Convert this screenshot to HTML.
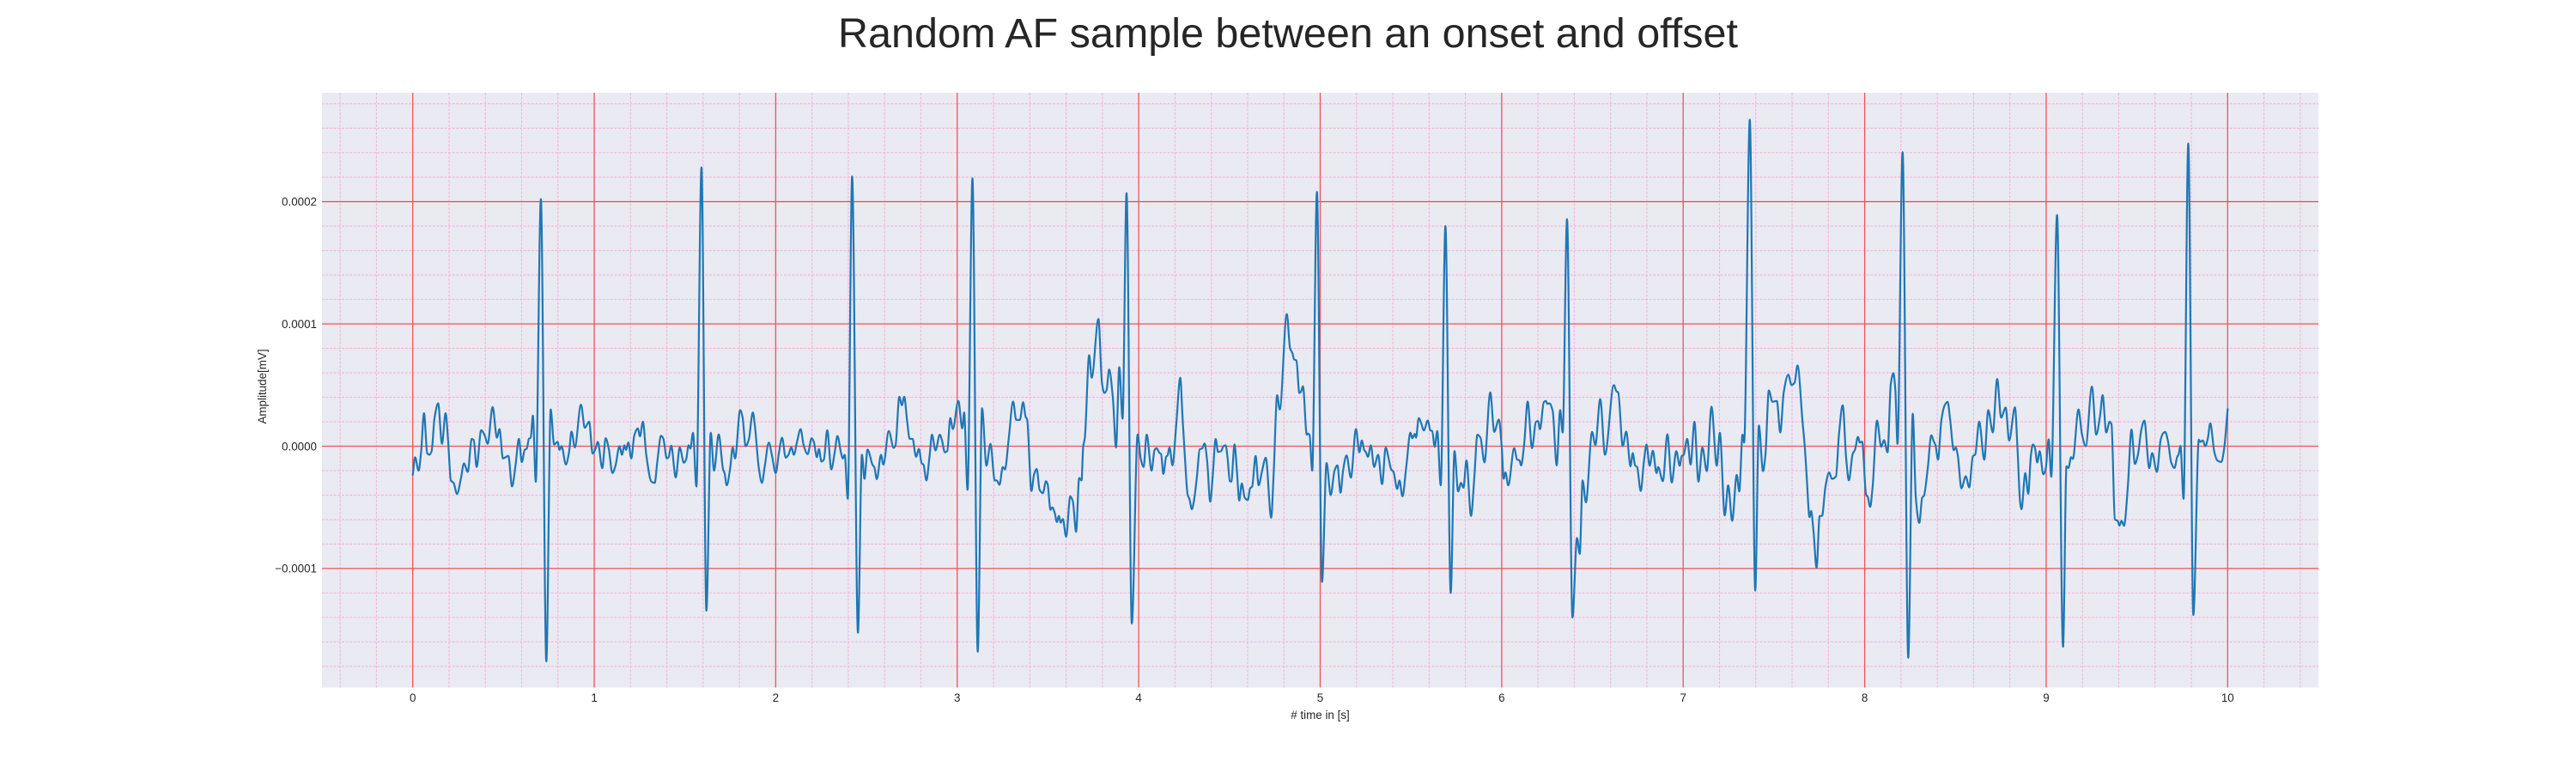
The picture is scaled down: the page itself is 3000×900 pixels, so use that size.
<!DOCTYPE html>
<html lang="en">
<head>
<meta charset="utf-8">
<title>Random AF sample between an onset and offset</title>
<style>
  html, body { margin: 0; padding: 0; background: #ffffff; }
  svg { display: block; font-family: "Liberation Sans", Arial, sans-serif; }
</style>
</head>
<body>
<svg id="chart" xmlns="http://www.w3.org/2000/svg" width="3000" height="900" viewBox="0 0 3000 900">
  <rect x="0" y="0" width="3000" height="900" fill="#ffffff"/>
  <text x="1500" y="55" text-anchor="middle" font-size="48.5" fill="#262626">Random AF sample between an onset and offset</text>
  <rect x="375" y="108" width="2325" height="692.5" fill="#eaeaf2"/>
  <g id="minor-grid"></g>
  <g id="major-grid"></g>
  <path id="signal" fill="none" stroke="#1f77b4" stroke-width="2.2" stroke-linejoin="round" stroke-linecap="round"></path>
  <g id="x-ticks" font-size="13.4" fill="#262626" text-anchor="middle"></g>
  <g id="y-ticks" font-size="13.4" fill="#262626" text-anchor="end"></g>
  <text x="1537.5" y="837" text-anchor="middle" font-size="13.4" fill="#262626"># time in [s]</text>
  <text transform="translate(310 450) rotate(-90)" text-anchor="middle" font-size="13.4" fill="#262626">Amplitude[mV]</text>
</svg>
<script>
// Chart data (time in seconds, amplitude in millionths of a mV)
const xMajorTicks = [0, 1, 2, 3, 4, 5, 6, 7, 8, 9, 10];
const yMajorTicks = [-0.0001, 0, 0.0001, 0.0002];
const yTickLabels = ["\u22120.0001", "0.0000", "0.0001", "0.0002"];
const xDomain = [-0.5, 10.5];
const yDomain = [-0.00019733, 0.00028898];
const timeSeconds = [
0,.013,.032,.046,.062,.08,.091,.104,.12,.14,.161,.181,.195,.21,.225,.244,.266,.282,.303,.325,.336,.352,.377,.396,.413,.44,.464,.478,.497,.527,.547,.566,.585,.601,.617,.628,.64,.65,.662,.678,.706,.736,.76,.779,.798,.809,.82,.844,.861,.875,.893,.927,.948,.972,.991,
1.005,1.02,1.044,1.063,1.08,1.1,1.117,1.139,1.153,1.166,1.175,1.188,1.204,1.221,1.24,1.252,1.268,1.287,1.315,1.333,1.348,1.368,1.38,1.4,1.41,1.424,1.449,1.471,1.494,1.506,1.52,1.53,1.544,1.563,1.591,1.618,1.642,1.66,1.686,1.71,1.718,1.73,1.749,1.763,1.776,1.804,1.817,1.834,1.851,1.874,1.885,1.907,1.924,1.939,1.962,1.979,
2,2.018,2.035,2.055,2.07,2.086,2.1,2.118,2.137,2.154,2.176,2.198,2.209,2.227,2.238,2.252,2.265,2.284,2.306,2.325,2.34,2.36,2.37,2.38,2.397,2.421,2.453,2.475,2.489,2.506,2.535,2.543,2.557,2.58,2.593,2.623,2.65,2.66,2.681,2.695,2.708,2.724,2.738,2.754,2.773,2.789,2.804,2.814,2.83,2.848,2.861,2.88,2.904,2.915,2.932,2.945,2.962,2.976,
3.006,3.028,3.038,3.057,3.084,3.113,3.137,3.161,3.183,3.207,3.218,3.233,3.251,3.263,3.284,3.308,3.325,3.345,3.363,3.377,3.385,3.409,3.423,3.438,3.454,3.472,3.489,3.498,3.514,3.524,3.538,3.549,3.56,3.57,3.582,3.6,3.623,3.637,3.655,3.672,3.685,3.694,3.703,3.727,3.741,3.778,3.798,3.811,3.823,3.837,3.858,3.875,3.893,3.911,3.933,3.962,3.994,
4.011,4.027,4.044,4.071,4.087,4.098,4.115,4.123,4.136,4.151,4.159,4.17,4.186,4.207,4.229,4.241,4.254,4.27,4.279,4.293,4.304,4.32,4.337,4.349,4.363,4.377,4.394,4.407,4.424,4.437,4.454,4.467,4.479,4.49,4.502,4.51,4.528,4.541,4.554,4.568,4.584,4.601,4.614,4.625,4.644,4.661,4.68,4.7,4.73,4.743,4.763,4.777,4.816,4.834,4.847,4.856,4.869,4.885,4.894,4.905,4.926,4.932,4.941,4.956,4.982,
5.01,5.035,5.058,5.079,5.095,5.112,5.126,5.145,5.169,5.197,5.216,5.229,5.243,5.251,5.263,5.279,5.297,5.319,5.341,5.361,5.377,5.391,5.404,5.424,5.437,5.453,5.475,5.497,5.508,5.521,5.528,5.543,5.555,5.571,5.593,5.607,5.617,5.631,5.645,5.664,5.69,5.719,5.74,5.76,5.776,5.789,5.806,5.831,5.849,5.866,5.883,5.905,5.937,5.959,5.984,
6,6.011,6.021,6.036,6.069,6.085,6.098,6.107,6.124,6.143,6.167,6.189,6.2,6.211,6.232,6.243,6.252,6.263,6.281,6.303,6.322,6.336,6.36,6.39,6.415,6.43,6.446,6.464,6.498,6.516,6.543,6.569,6.618,6.632,6.642,6.667,6.686,6.71,6.722,6.735,6.746,6.766,6.784,6.798,6.815,6.833,6.853,6.862,6.888,6.913,6.937,6.962,6.981,6.992,
7.003,7.022,7.041,7.062,7.084,7.106,7.13,7.156,7.185,7.202,7.229,7.248,7.27,7.295,7.309,7.327,7.336,7.367,7.397,7.417,7.44,7.453,7.472,7.492,7.516,7.535,7.554,7.579,7.597,7.614,7.63,7.658,7.67,7.681,7.696,7.705,7.718,7.735,7.752,7.765,7.784,7.804,7.82,7.842,7.858,7.879,7.898,7.913,7.934,7.947,7.963,7.973,7.986,
8.008,8.017,8.03,8.044,8.068,8.091,8.107,8.126,8.144,8.158,8.169,8.181,8.209,8.24,8.265,8.282,8.301,8.317,8.326,8.347,8.367,8.38,8.39,8.404,8.423,8.441,8.457,8.47,8.491,8.502,8.513,8.533,8.557,8.576,8.596,8.609,8.631,8.659,8.681,8.706,8.73,8.752,8.777,8.796,8.828,8.843,8.856,8.864,8.885,8.901,8.916,8.927,8.937,8.951,8.964,8.984,8.997,
9.014,9.028,9.06,9.093,9.112,9.123,9.137,9.147,9.178,9.197,9.218,9.252,9.276,9.297,9.311,9.331,9.35,9.36,9.379,9.394,9.404,9.415,9.429,9.45,9.47,9.489,9.505,9.525,9.541,9.568,9.584,9.61,9.631,9.644,9.656,9.671,9.689,9.707,9.722,9.729,9.74,9.757,9.783,9.811,9.841,9.849,9.863,9.877,9.891,9.904,9.927,9.942,9.965,9.98,10
];
const amplitudeMicro = [
-23.4,-9,-20,-5,27,-6,-7,-4,23,35,2,27,4,-28,-30,-39,-26,-14,-21,6,5,-17,13,9,2,32,7,14,-10,-8,-33,-16,6,-13,-3,-2,6,7,25,-29,202,-176,30,1.4,3.5,-3,0,-15,-5,12,-1,34,15,20,-6,
-3,3.5,-18,6.5,-2,-22,-16,0,-7,.7,-3,3,-10,9,14.5,8,20,-7.5,-29,-30,-12,8.5,6.5,-10,-9,.5,-25.5,-1,-13.5,-11,.7,-2,11,-33,228,-134.5,11,-20,9.6,-19,-22,-32,-18,-1,-10,29.5,24,0,5,27.6,17,-18,-30,-17,3,-7.5,
-22,-5,7,-9.4,-7,-1,-7,4,14,.7,-6.5,6.5,4,-9,-2.3,-12.6,-11,13,-19,-5,8.4,-5.6,-10,-7,-43,220.6,-152.5,-7,-26.7,-2.8,-15.7,-17,-27,-7,-15,12.4,-1.4,.7,40.5,33.5,40.5,20.6,6,6,-8.7,-2.3,-14,-15,-28,-7.5,9.4,-3.5,9.4,5.4,-5,-4,23,14,
37,14.5,27.6,-35.6,219,-168,31,-16,1.9,-28,-28,-31.6,-17,-19,6.5,36.5,21.5,21.5,36,24,22,-36.7,-23.4,-18.7,-35.6,-38.4,-28.6,-31,-52,-50,-55,-62,-57,-62.5,-59.5,-74,-41,-45,-70,-26,-28,-.5,6.5,74.4,56,104,51,43.5,46,62.7,39,-1,64.6,22.5,206.8,-145,9.6,
-10,-17,9.4,-20,-3.3,-1.6,-5.6,-6.3,-22.7,-8.7,-7.5,-1,-15.7,18,56,25,-7.5,-40,-43,-51.5,-45,-26,-2.3,-2,2.3,-12,-45.4,-26,6,-4.7,-4,0,.7,-10,-28.6,-29,1.4,-20,-44.5,-30.4,-42,-44,-34.4,-33,-8,-32,-20,-9.4,-58.5,-24,41.7,30,108,80,76,71,70,43.5,44.5,49,9.4,10.3,9.4,-20,208,
-111,-13.8,-40,-20,-15.7,-38,-20,-7.5,-25.7,14,-5,4.7,-3.3,-4.7,-8.7,.7,-17,-7,-31,-1,-10,-19,-21,-35,-28,-41,-15.7,11,6.5,10,7,23,19.4,12.9,21,12.9,12.4,-.5,12.4,-32,180,-120,-4,-37,-30,-34,-11.7,-57,-26,9.4,7,-13.3,44,11.7,21.8,
0,-26.7,-21.5,-32,-1.6,-11,-11.5,-15.7,1.9,36.5,-1.6,20,20.6,14,36,37,34.6,35,28.8,-15.7,29.5,11.2,185.6,-140,-75,-88,-28,-46,11.7,1,38.6,-7,50,45,44,0,12,-16.4,-5.6,-15.7,-17,-36.7,-12,1.4,-16,-3.7,-22,-17,-28.6,9.8,-29.7,-4,-16,-8,
-7,6,-15,20,-29,-1,-20.4,32.3,-16,11,-56.6,-32,-61,-23.4,-37,9.4,3,267,-118,17,-20.4,-7.5,45.6,36.3,37,11.2,44,58.5,50,52,66,19.4,-.5,-26,-58,-53,-69.5,-99.4,-57,-57,-33,-21.5,-26.7,-24.6,8.9,33.5,-9.8,-27.9,-6.3,-2.8,7.7,3,3.7,
-39.8,-41.4,-49.6,-33,21,-.5,4.9,-5,51,59.7,46,1.9,240.4,-173,26.5,-42.6,-62.7,-42,-40.7,-19,8.9,4.2,1,-11,21.8,33.5,36.3,23,-3.3,-1,-7.5,-34.4,-24.6,-33.7,-8.2,-6.8,20,-11,29.5,11.2,55,23.4,31.6,4.7,31.8,-5,-45,-51.5,-22,-39,-7.5,1.4,-.5,-13.3,-4,-23,-19,
5.6,-25,189,-164,-16.4,-17.8,-9,-10.5,30,10,0,48.7,9.4,25,41.7,11.2,20,17.8,-60,-61,-65,-61,-65,-33,13.6,-14.5,-7.5,14,21,-18,-5.6,-21,5.4,10.5,11.7,4.2,-13.3,-17.8,-8.7,-7,.2,-43,247.5,-138,5.4,3.5,4.7,0,6.5,18.7,-5,-11.5,-12.9,-2.8,30.4
];

const NS = 'http://www.w3.org/2000/svg';
const plot = { left: 375, right: 2700, top: 108, bottom: 800.5 };
function xScale(t) {
  return plot.left + (t - xDomain[0]) / (xDomain[1] - xDomain[0]) * (plot.right - plot.left);
}
function yScale(v) {
  return plot.bottom - (v - yDomain[0]) / (yDomain[1] - yDomain[0]) * (plot.bottom - plot.top);
}
function makeLine(parent, x1, y1, x2, y2, stroke, width, dash) {
  const l = document.createElementNS(NS, 'line');
  l.setAttribute('x1', x1);
  l.setAttribute('y1', y1);
  l.setAttribute('x2', x2);
  l.setAttribute('y2', y2);
  l.setAttribute('stroke', stroke);
  l.setAttribute('stroke-width', width);
  if (dash) l.setAttribute('stroke-dasharray', dash);
  parent.appendChild(l);
  return l;
}
const minorGrid = document.getElementById('minor-grid');
const majorGrid = document.getElementById('major-grid');
const xTickGroup = document.getElementById('x-ticks');
const yTickGroup = document.getElementById('y-ticks');
const minorColor = '#f4b4e0';
const majorColor = '#f25257';

for (let i = -2; i <= 52; i++) {
  if (i % 5 === 0) continue;
  const px = xScale(i * 0.2);
  const el = makeLine(minorGrid, px, plot.top, px, plot.bottom, minorColor, 1.1, '3 1.6');
  
  
}
for (let i = -9; i <= 14; i++) {
  if (i % 5 === 0) continue;
  const py = yScale(i * 0.00002);
  const el = makeLine(minorGrid, plot.left, py, plot.right, py, minorColor, 1.1, '3 1.6');
  
  
}
xMajorTicks.forEach(function (t) {
  const px = xScale(t);
  const el = makeLine(majorGrid, px, plot.top, px, plot.bottom, majorColor, 1.3);
  
  
  const label = document.createElementNS(NS, 'text');
  label.setAttribute('x', px);
  label.setAttribute('y', 817);
  label.textContent = String(t);
  
  
  xTickGroup.appendChild(label);
});
yMajorTicks.forEach(function (v, i) {
  const py = yScale(v);
  const el = makeLine(majorGrid, plot.left, py, plot.right, py, majorColor, 1.3);
  
  
  const label = document.createElementNS(NS, 'text');
  label.setAttribute('x', 369);
  label.setAttribute('y', py + 4.8);
  label.textContent = yTickLabels[i];
  
  
  yTickGroup.appendChild(label);
});

// Monotone cubic path through the traced samples
function buildPath(xs, ys) {
  const n = Math.min(xs.length, ys.length);
  const dx = [], sl = [], m = [];
  for (let i = 0; i < n - 1; i++) {
    dx[i] = xs[i + 1] - xs[i];
    sl[i] = dx[i] !== 0 ? (ys[i + 1] - ys[i]) / dx[i] : 0;
  }
  m[0] = sl[0];
  m[n - 1] = sl[n - 2];
  for (let i = 1; i < n - 1; i++) {
    if (sl[i - 1] * sl[i] <= 0) { m[i] = 0; continue; }
    const w1 = 2 * dx[i] + dx[i - 1], w2 = dx[i] + 2 * dx[i - 1];
    m[i] = (w1 + w2) / (w1 / sl[i - 1] + w2 / sl[i]);
  }
  let d = 'M' + xs[0].toFixed(2) + ' ' + ys[0].toFixed(2);
  for (let i = 0; i < n - 1; i++) {
    const h = dx[i] / 3;
    d += 'C' + (xs[i] + h).toFixed(2) + ' ' + (ys[i] + m[i] * h).toFixed(2) + ' ' +
         (xs[i + 1] - h).toFixed(2) + ' ' + (ys[i + 1] - m[i + 1] * h).toFixed(2) + ' ' +
         xs[i + 1].toFixed(2) + ' ' + ys[i + 1].toFixed(2);
  }
  return d;
}
const pxs = timeSeconds.map(xScale);
const pys = amplitudeMicro.map(function (v) { return yScale(v * 1e-6); });
document.getElementById('signal').setAttribute('d', buildPath(pxs, pys));
</script>
</body>
</html>
